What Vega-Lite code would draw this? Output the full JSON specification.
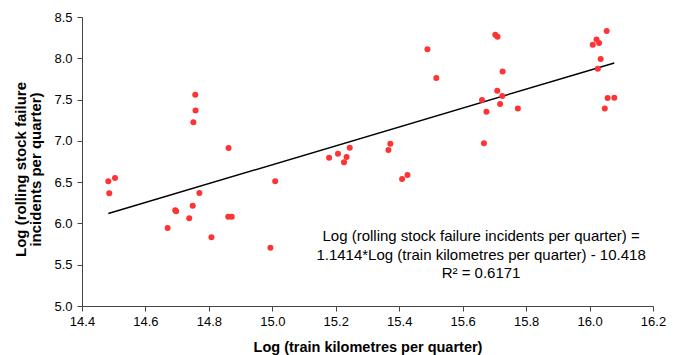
{
  "$schema": "https://vega.github.io/schema/vega-lite/v6.json",
  "width": 571,
  "height": 289,
  "autosize": {"type": "none"},
  "padding": {"left": 82, "top": 17, "right": 28, "bottom": 49},
  "background": "white",
  "config": {
    "view": {"stroke": null},
    "font": "Liberation Sans",
    "axis": {
      "grid": false,
      "domainColor": "#444444",
      "tickColor": "#444444",
      "tickSize": 5,
      "labelFlush": false,
      "labelOverlap": false,
      "labelFont": "Liberation Sans",
      "labelFontSize": 13,
      "labelColor": "#000000",
      "titleFont": "Liberation Sans",
      "titleFontWeight": "bold",
      "titleColor": "#000000"
    }
  },
  "datasets": {
    "points": [
      {"x": 14.757, "y": 7.558}, {"x": 14.758, "y": 7.369}, {"x": 14.751, "y": 7.224},
      {"x": 14.862, "y": 6.913}, {"x": 15.179, "y": 6.795}, {"x": 15.207, "y": 6.844},
      {"x": 15.234, "y": 6.804}, {"x": 15.226, "y": 6.740}, {"x": 15.244, "y": 6.917},
      {"x": 14.483, "y": 6.510}, {"x": 14.504, "y": 6.550}, {"x": 14.486, "y": 6.364},
      {"x": 14.694, "y": 6.159}, {"x": 14.697, "y": 6.146}, {"x": 14.749, "y": 6.214},
      {"x": 14.770, "y": 6.368}, {"x": 14.738, "y": 6.062}, {"x": 14.670, "y": 5.944},
      {"x": 14.861, "y": 6.081}, {"x": 14.872, "y": 6.081}, {"x": 14.808, "y": 5.832},
      {"x": 14.994, "y": 5.706}, {"x": 15.009, "y": 6.510},
      {"x": 15.489, "y": 8.108}, {"x": 15.517, "y": 7.760}, {"x": 15.703, "y": 8.285},
      {"x": 15.710, "y": 8.261}, {"x": 15.726, "y": 7.841}, {"x": 15.709, "y": 7.607},
      {"x": 15.725, "y": 7.542}, {"x": 15.661, "y": 7.494}, {"x": 15.718, "y": 7.446},
      {"x": 15.675, "y": 7.352}, {"x": 15.774, "y": 7.393}, {"x": 15.667, "y": 6.970},
      {"x": 16.054, "y": 8.329}, {"x": 16.022, "y": 8.229}, {"x": 16.030, "y": 8.184},
      {"x": 16.010, "y": 8.164}, {"x": 16.035, "y": 7.990}, {"x": 16.026, "y": 7.873},
      {"x": 16.057, "y": 7.518}, {"x": 16.078, "y": 7.522}, {"x": 16.048, "y": 7.393},
      {"x": 15.372, "y": 6.965}, {"x": 15.366, "y": 6.889}, {"x": 15.426, "y": 6.586},
      {"x": 15.409, "y": 6.537}
    ],
    "labels": [
      {"x": 15.658, "y": 5.787, "text": "Log (rolling stock failure incidents per quarter) ="},
      {"x": 15.658, "y": 5.557, "text": "1.1414*Log (train kilometres per quarter) - 10.418"},
      {"x": 15.658, "y": 5.339, "text": "R² = 0.6171"}
    ]
  },
  "layer": [
    {
      "data": {"name": "points"},
      "transform": [{"regression": "y", "on": "x", "extent": [14.483, 16.078]}],
      "mark": {"type": "line", "color": "#000000", "strokeWidth": 1.5},
      "encoding": {
        "x": {"field": "x", "type": "quantitative", "scale": {"domain": [14.4, 16.2], "nice": false, "zero": false},
              "axis": {"values": [14.4, 14.6, 14.8, 15.0, 15.2, 15.4, 15.6, 15.8, 16.0, 16.2], "format": ".1f",
                       "title": "Log (train kilometres per quarter)", "titleFontSize": 14.5, "titlePadding": 12, "labelPadding": 4}},
        "y": {"field": "y", "type": "quantitative", "scale": {"domain": [5.0, 8.5], "nice": false, "zero": false},
              "axis": {"values": [5.0, 5.5, 6.0, 6.5, 7.0, 7.5, 8.0, 8.5], "format": ".1f",
                       "title": ["Log (rolling stock failure", "incidents per quarter)"], "titleFontSize": 15, "titlePadding": 10, "labelPadding": 5, "titleLineHeight": 15, "titleY": 152}}
      }
    },
    {
      "data": {"name": "points"},
      "mark": {"type": "circle", "color": "#ff3333", "opacity": 1, "size": 36},
      "encoding": {
        "x": {"field": "x", "type": "quantitative"},
        "y": {"field": "y", "type": "quantitative"}
      }
    },
    {
      "data": {"name": "labels"},
      "mark": {"type": "text", "align": "center", "baseline": "alphabetic", "fontSize": 15, "font": "Liberation Sans", "color": "#000000"},
      "encoding": {
        "x": {"field": "x", "type": "quantitative"},
        "y": {"field": "y", "type": "quantitative"},
        "text": {"field": "text"}
      }
    }
  ]
}
